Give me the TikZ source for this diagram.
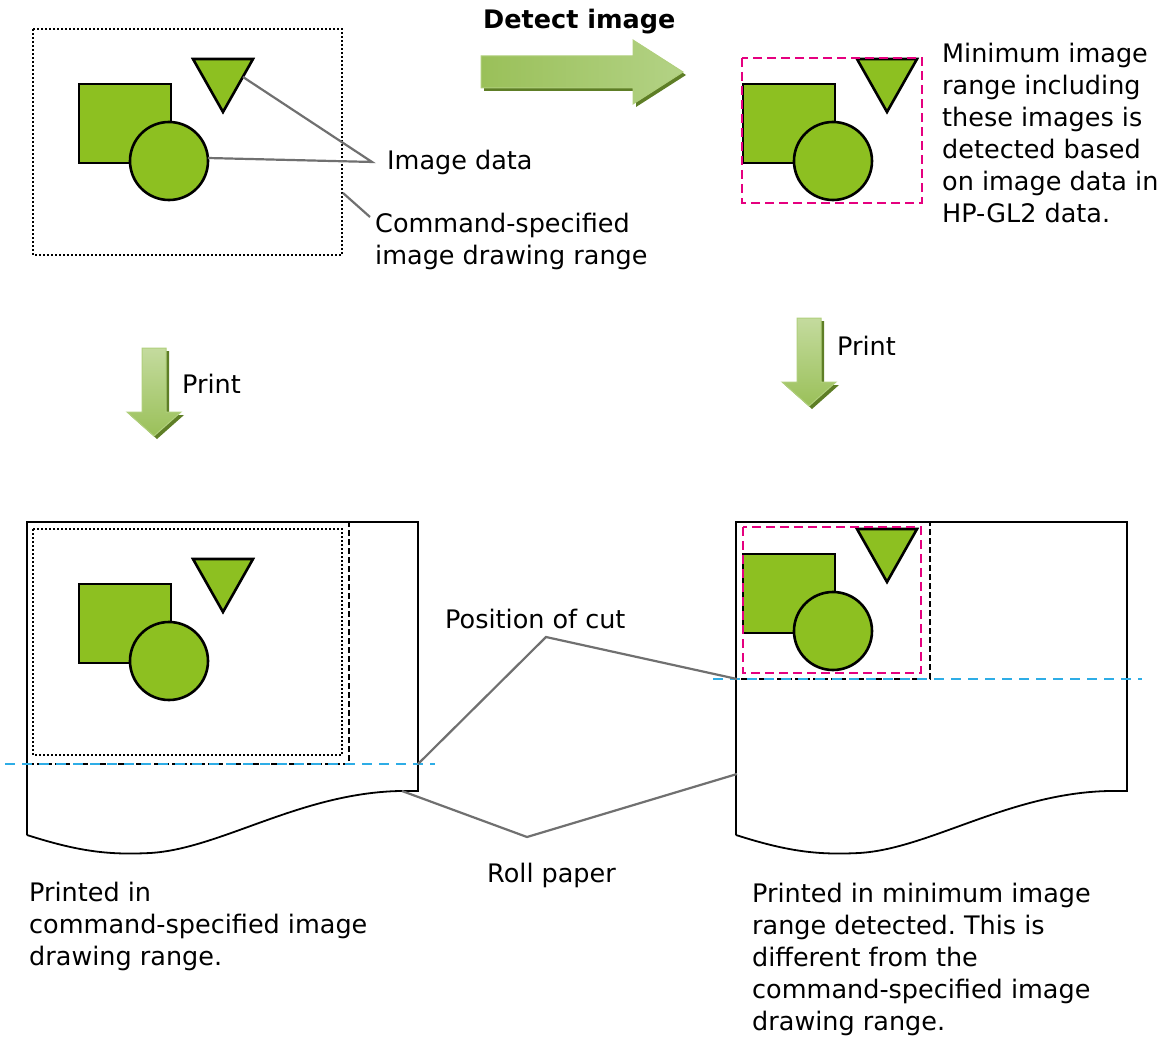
\documentclass[tikz,border=0pt]{standalone}
\usepackage{fontspec}
\setmainfont{DejaVu Sans}
\usetikzlibrary{calc}
\frenchspacing

\definecolor{shapegreen}{HTML}{8DC021}
\definecolor{cutpink}{HTML}{E5007F}
\definecolor{cutblue}{HTML}{2EADE6}
\definecolor{leadergray}{HTML}{707070}
\definecolor{arrowlight}{HTML}{C4DB9E}
\definecolor{arrowmid}{HTML}{B3D285}
\definecolor{arrowdark}{HTML}{9AC059}
\definecolor{arrowedge}{HTML}{B0CF7C}
\definecolor{arrowshade}{HTML}{5E7E26}

\begin{document}
\begin{tikzpicture}[x=1pt, y=-1pt,
  txt/.style={inner sep=0pt, font=\fontsize{25.5pt}{32pt}\selectfont},
  txtblock/.style={txt, align=left, anchor=north west},
  imgpart/.style={draw=black, line width=2.6pt, fill=shapegreen},
  leader/.style={draw=leadergray, line width=2.2pt},
  cmdbox/.style={draw=black, line width=2.4pt, dash pattern=on 2pt off 2pt},
  printbox/.style={draw=black, line width=2.4pt, dash pattern=on 6pt off 3pt},
  minbox/.style={draw=cutpink, line width=2.4pt, dash pattern=on 9pt off 5pt},
  cutline/.style={draw=cutblue, line width=2.4pt, dash pattern=on 10pt off 7pt},
  paper/.style={draw=black, line width=1.8pt},
  arrowbody/.style={draw=arrowedge, line width=1pt},
  arrowshadow/.style={fill=arrowshade}]
  \useasboundingbox (0,0) rectangle (1173,1038);

  \foreach \dx/\dy in {0/0, 664/0, 0/500, 664/470} {
    \begin{scope}[shift={(\dx,\dy)}]
      \draw[imgpart] (79,84) rectangle (171,163);
      \draw[imgpart] (169,161) circle [radius=39];
      \draw[imgpart] (193,59) -- (253,59) -- (223,112) -- cycle;
    \end{scope}
  }

  \draw[cmdbox] (33,29) rectangle (342,255);
  \draw[minbox] (742,58) rectangle (922,203);

  \foreach \px in {0, 709} {
    \draw[paper, shift={(\px,0)}] (27,835) -- (27,522) -- (418,522) -- (418,791) -- (400,791)
      .. controls (300,793) and (220,849) .. (150,853)
      .. controls (110,855) and (80,852) .. (27,835);
  }
  \draw[printbox] (27,522) rectangle (349,764);
  \draw[cmdbox] (33,529) rectangle (342,755);
  \draw[printbox] (736,522) rectangle (930,679);
  \draw[minbox] (743,527) rectangle (921,673);
  \draw[cutline] (5,764) -- (435,764);
  \draw[cutline] (713,679) -- (1142,679);

  \fill[arrowshadow, shift={(484,75)}] (0,-16) -- (152,-16) -- (152,-32) -- (202,0) -- (152,32) -- (152,16) -- (0,16) -- cycle;
  \path[arrowbody, left color=arrowdark, right color=arrowmid, shift={(481,72)}]
    (0,-16) -- (152,-16) -- (152,-32) -- (202,0) -- (152,32) -- (152,16) -- (0,16) -- cycle;
  \foreach \ax/\ay in {154/348, 809/318} {
    \fill[arrowshadow, shift={(\ax+3,\ay+3)}] (-12,0) -- (12,0) -- (12,64) -- (27,64) -- (0,88) -- (-27,64) -- (-12,64) -- cycle;
    \path[arrowbody, top color=arrowlight, bottom color=arrowdark, shift={(\ax,\ay)}]
      (-12,0) -- (12,0) -- (12,64) -- (27,64) -- (0,88) -- (-27,64) -- (-12,64) -- cycle;
  }

  \node[txt, anchor=base west] (detect) at (483,29) {\bfseries Detect image};
  \node[txt, anchor=base west] (imgdata) at (387,169) {Image data};
  \node[txtblock] (cmdrange) at (375,213) {Command-specified\\image drawing range};
  \node[txtblock] (minrange) at (942,43) {Minimum image\\range including\\these images is\\detected based\\on image data in\\HP-GL2 data.};
  \node[txt, anchor=base west] (printL) at (182,393) {Print};
  \node[txt, anchor=base west] (printR) at (837,355) {Print};
  \node[txt, anchor=base west] (cutpos) at (445,628) {Position of cut};
  \node[txt, anchor=base west] (roll) at (487,882) {Roll paper};
  \node[txtblock] (noteL) at (29,882) {Printed in\\command-specified image\\drawing range.};
  \node[txtblock] (noteR) at (752,883) {Printed in minimum image\\range detected. This is\\different from the\\command-specified image\\drawing range.};

  \coordinate (triR) at (243,77);
  \coordinate (circR) at (208,158);
  \coordinate (imgjoin) at ([xshift=-15pt]imgdata.west);
  \coordinate (cmdR) at (343,193);
  \coordinate (cutL) at (418,764);
  \coordinate (cutapex) at (546,637);
  \coordinate (cutR) at (737,679);
  \coordinate (rollL) at (402,791);
  \coordinate (rollapex) at (527,837);
  \coordinate (rollR) at (737,774);

  \draw[leader] (triR) -- (imgjoin) -- (circR);
  \draw[leader] (cmdR) -- ($(cmdrange.north west)+(-5,4)$);
  \draw[leader] (cutL) -- (cutapex) -- (cutR);
  \draw[leader] (rollL) -- (rollapex) -- (rollR);
\end{tikzpicture}
\end{document}
